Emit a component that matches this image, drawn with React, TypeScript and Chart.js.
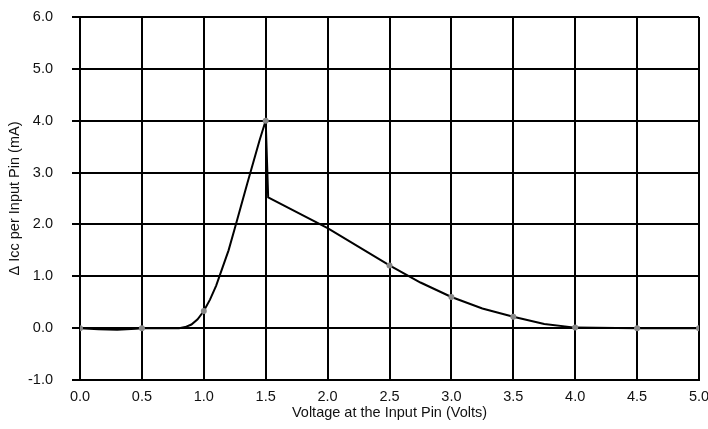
import React, { useEffect, useRef } from "react";
import { Chart, registerables } from "chart.js";

Chart.register(...registerables);

const voltage = [0, 0.15, 0.3, 0.45, 0.5, 0.8, 0.85, 0.9, 0.95, 1.0, 1.05, 1.1, 1.2, 1.25, 1.3, 1.35, 1.4, 1.45, 1.48, 1.5, 1.52, 2.0, 2.5, 2.75, 3.0, 3.25, 3.5, 3.75, 4.0, 4.5, 5.0];
const deltaIcc = [0, -0.02, -0.03, -0.01, 0, 0, 0.02, 0.07, 0.17, 0.33, 0.55, 0.82, 1.5, 1.92, 2.35, 2.78, 3.2, 3.62, 3.85, 4.0, 2.52, 1.93, 1.21, 0.88, 0.6, 0.38, 0.22, 0.08, 0.01, 0, 0];
const markerVoltages = [0, 0.5, 1.0, 1.5, 2.5, 3.0, 3.5, 4.0, 4.5, 5.0];
const xTitle = "Voltage at the Input Pin (Volts)";
const yTitle = "\u0394 Icc per Input Pin (mA)";

export default function App() {
  const ref = useRef<HTMLCanvasElement | null>(null);
  useEffect(() => {
    document.body.style.margin = "0";
    const curve = voltage.map((x, i) => ({ x, y: deltaIcc[i] }));
    const markers = curve.filter((p) => markerVoltages.includes(p.x));
    const font = { family: "'Liberation Sans', Arial, sans-serif", size: 14.5 };
    const chart = new Chart(ref.current as HTMLCanvasElement, {
      type: "line",
      data: {
        datasets: [
          {
            data: markers,
            showLine: false,
            pointRadius: 3,
            pointBackgroundColor: "#888888",
            pointBorderColor: "#888888",
            pointBorderWidth: 0,
          },
          {
            data: curve,
            borderColor: "#000000",
            borderWidth: 2,
            pointRadius: 0,
            tension: 0,
            fill: false,
          },
        ],
      },
      options: {
        animation: false,
        responsive: false,
        maintainAspectRatio: false,
        layout: { padding: { top: 17, right: 9, left: 6, bottom: 7 } },
        plugins: { legend: { display: false }, tooltip: { enabled: false } },
        scales: {
          x: {
            type: "linear",
            min: 0,
            max: 5,
            afterFit: (s: any) => { s.height = 42; s.paddingLeft = 0; s.paddingRight = 0; },
            ticks: { stepSize: 0.5, color: "#111", font, padding: 8, callback: (v: any) => Number(v).toFixed(1) },
            grid: { color: "#000", lineWidth: 2, drawTicks: false },
            border: { color: "#000", width: 2 },
            title: { display: true, text: xTitle, color: "#111", font, padding: { top: 0, bottom: 0 } },
          },
          y: {
            type: "linear",
            min: -1,
            max: 6,
            afterFit: (s: any) => { s.width = 74; s.paddingTop = 0; s.paddingBottom = 0; },
            ticks: { stepSize: 1, color: "#111", font, padding: 19, callback: (v: any) => Number(v).toFixed(1) },
            grid: { color: "#000", lineWidth: 2, tickLength: 8 },
            border: { color: "#000", width: 2 },
            title: { display: true, text: yTitle, color: "#111", font, padding: { top: 0, bottom: 0 } },
          },
        },
      },
    });
    return () => chart.destroy();
  }, []);
  return (
    <div style={{ position: "fixed", left: 0, top: 0, width: 708, height: 429, background: "#fff" }}>
      <canvas ref={ref} width={708} height={429} />
    </div>
  );
}
